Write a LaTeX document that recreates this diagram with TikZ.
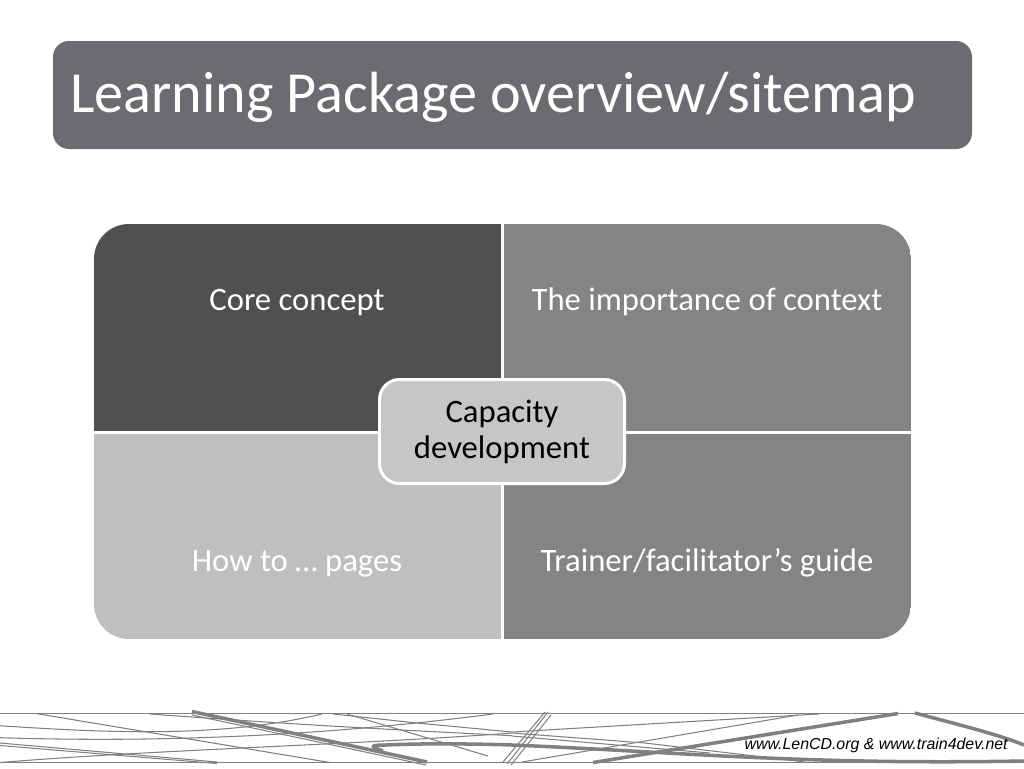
\documentclass[tikz,border=0pt]{standalone}
\usepackage{fontspec}
\setmainfont{Carlito}
\newfontfamily\footfont{Liberation Sans}
\definecolor{titlegrey}{HTML}{6B6B70}
\definecolor{darkgrey}{HTML}{505052}
\definecolor{midgrey}{HTML}{848487}
\definecolor{lightgrey}{HTML}{BFBFC1}
\definecolor{hubgrey}{HTML}{C6C6C8}
\definecolor{linegrey}{HTML}{808080}
\begin{document}
\begin{tikzpicture}[
        x=0.02cm, y=-0.02cm,
        quad/.style={text=white, font=\fontsize{18.6}{22}\selectfont},
        hub/.style={rectangle, rounded corners=0.4cm, draw=white, line width=1.7pt, fill=hubgrey, text=black, font=\fontsize{18.6}{20.4}\selectfont, align=center, minimum width=245*0.02cm, minimum height=104*0.02cm},
        thinline/.style={draw=linegrey, line width=0.6pt},
        thickline/.style={draw=linegrey, line width=2pt}
    ]
    \useasboundingbox (0,0) rectangle (1024,768);
    % title bar
    \fill[titlegrey, rounded corners=0.32cm] (53,41) rectangle (972,149);
    \node[text=white, font=\fontsize{33.1}{38}\selectfont, anchor=west, inner sep=0] (title) at (70,97) {Learning Package overview/sitemap};
    % four panels
    \begin{scope}
    \clip[rounded corners=0.7cm] (94,224) rectangle (911,639);
    \fill[darkgrey] (94,224) rectangle (502,432);
    \fill[midgrey] (502,224) rectangle (911,432);
    \fill[lightgrey] (94,432) rectangle (502,639);
    \fill[midgrey] (502,432) rectangle (911,639);
    \draw[white, line width=1.7pt] (502,224) -- (502,639);
    \draw[white, line width=1.7pt] (94,432) -- (911,432);
    \end{scope}
    \node[quad, anchor=base] (core) at (297,310) {Core concept};
    \node[quad, anchor=base] (context) at (707,310) {The importance of context};
    \node[quad, anchor=base] (howto) at (297,571) {How to … pages};
    \node[quad, anchor=base] (guide) at (707,571) {Trainer/facilitator’s guide};
    \node[hub] (capacity) at (502,431.5) {Capacity\\development};
    % footer lines
    \draw[thinline] (0,713.5) -- (1024,713.5);
    \draw[thinline] (0,762.5) -- (1024,762.5);
    \draw[thinline] (36,713.5) -- (330,762.5);
    \draw[thinline] (0,725.7) .. controls (110,733) and (220,738) .. (322,714);
    \draw[thinline] (0,737.7) .. controls (170,743) and (330,735) .. (493,714);
    \draw[thinline] (0,762.5) .. controls (150,750) and (350,745) .. (512,733);
    \draw[thinline] (150,714) .. controls (300,725) and (400,730) .. (512,735.7);
    \draw[thinline] (333,714) -- (417,723) -- (512,732);
    \draw[thinline] (347,714) -- (488,756);
    \draw[thinline] (0,743) -- (217,762);
    \draw[thinline] (0,745.5) -- (217,763.5);
    \draw[thinline] (192,715) -- (426,765);
    \draw[thickline] (192,711.5) -- (427,762);
    \draw[thickline] (383,751) .. controls (372,747) and (368,745) .. (385,745) .. controls (430,743) and (480,744) .. (512,745) .. controls (680,752) and (800,765) .. (1024,761);
    \draw[thinline] (503,762) -- (545,712);
    \draw[thinline] (507,764) -- (548,712);
    \draw[thinline] (511,765) -- (551,715);
    \draw[thinline] (512,732) -- (819,714);
    \draw[thinline] (522,762) -- (798,715);
    \draw[thinline] (512,733) -- (645,743) -- (805,762);
    \draw[thinline] (512,736) -- (710,753);
    \draw[thickline] (593,762.5) -- (898,713.5);
    \draw[thickline] (915,713) .. controls (960,725) and (1000,735) .. (1024,745);
    \node[font=\footfont\itshape\fontsize{9.05}{10}\selectfont, anchor=east, inner sep=0] (site) at (1008,745) {www.LenCD.org \& www.train4dev.net};
\end{tikzpicture}
\end{document}
